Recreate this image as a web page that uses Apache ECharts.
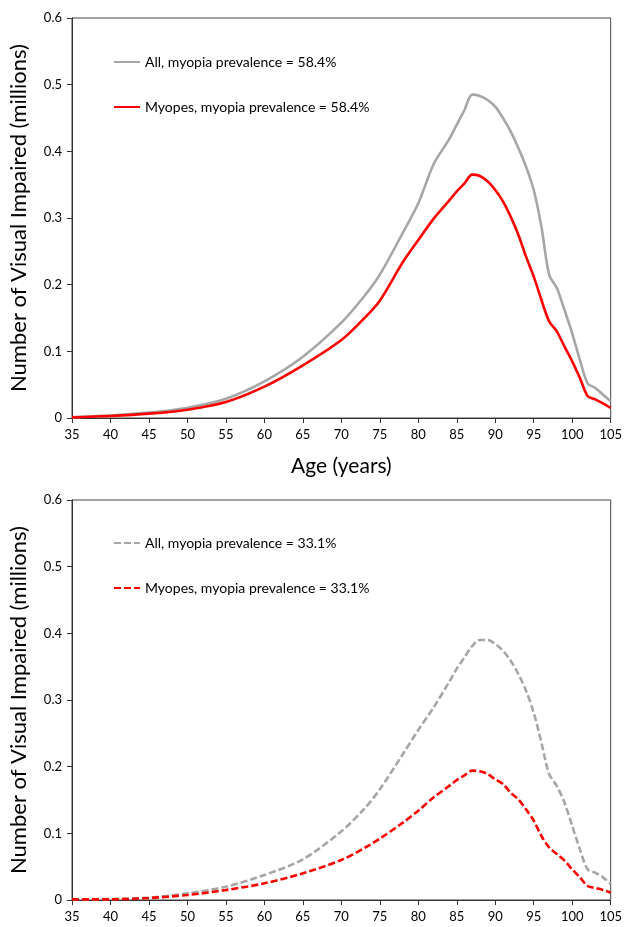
<!DOCTYPE html>
<html>
<head>
<meta charset="utf-8">
<script src="https://cdn.jsdelivr.net/npm/echarts@6/dist/echarts.min.js"></script>
<style>
  html, body { margin: 0; padding: 0; background: #fff; }
  #chart { width: 625px; height: 927px; }
</style>
</head>
<body>
<div id="chart"></div>
<script>
  // ages (years)
  const ages = [35, 40, 45, 50, 55, 60, 65, 70, 73, 75, 78, 80, 82, 84, 85, 86, 87, 88, 89, 90,
    91, 92, 93, 94, 95, 96, 97, 98, 99, 100, 101, 102, 103, 104, 105];

  // top panel, myopia prevalence = 58.4%
  const allHigh = [0.001, 0.004, 0.008, 0.0155, 0.029, 0.055, 0.092, 0.143, 0.183, 0.215, 0.278, 0.322, 0.381,
    0.418, 0.44, 0.462, 0.485, 0.483, 0.477, 0.467, 0.45, 0.43, 0.405, 0.377, 0.342, 0.287, 0.215,
    0.195, 0.162, 0.127, 0.087, 0.052, 0.045, 0.035, 0.025];
  const myopesHigh = [0.001, 0.003, 0.0065, 0.0125, 0.024, 0.047, 0.079, 0.117, 0.15, 0.176, 0.234, 0.267, 0.299,
    0.326, 0.34, 0.352, 0.365, 0.363, 0.355, 0.342, 0.325, 0.302, 0.275, 0.242, 0.212, 0.177, 0.145,
    0.13, 0.107, 0.085, 0.06, 0.033, 0.028, 0.022, 0.015];

  // bottom panel, myopia prevalence = 33.1%
  const allLow = [0.001, 0.0015, 0.0035, 0.01, 0.02, 0.0375, 0.061, 0.103, 0.137, 0.166, 0.219, 0.255, 0.289,
    0.327, 0.347, 0.364, 0.381, 0.39, 0.39, 0.384, 0.374, 0.359, 0.339, 0.314, 0.281, 0.236, 0.189,
    0.171, 0.146, 0.111, 0.076, 0.046, 0.041, 0.034, 0.024];
  const myopesLow = [0.001, 0.001, 0.003, 0.0075, 0.015, 0.025, 0.04, 0.06, 0.078, 0.092, 0.116, 0.134, 0.154,
    0.171, 0.18, 0.187, 0.194, 0.193, 0.189, 0.181, 0.174, 0.161, 0.151, 0.136, 0.119, 0.096, 0.079,
    0.069, 0.059, 0.046, 0.034, 0.021, 0.018, 0.015, 0.011];

  const names = [
    'All, myopia prevalence = 58.4%',
    'Myopes, myopia prevalence = 58.4%',
    'All, myopia prevalence = 33.1%',
    'Myopes, myopia prevalence = 33.1%'
  ];

  const font = 'Lato, "Open Sans", sans-serif';
  const gray = '#a6a6a6';
  const red = '#ff0000';

  function pairs(vals) {
    return ages.map((a, i) => [a, vals[i]]);
  }

  function xAxis(idx, showName) {
    return {
      type: 'value', gridIndex: idx,
      min: 35, max: 105, interval: 5,
      name: showName ? 'Age (years)' : '',
      nameLocation: 'middle', nameGap: 38,
      nameTextStyle: {fontFamily: font, fontSize: 21, color: '#000'},
      axisLine: {show: true, lineStyle: {color: '#333', width: 1}},
      axisTick: {show: true, inside: false, length: 5, lineStyle: {color: '#333'}},
      axisLabel: {fontFamily: font, fontSize: 13, color: '#000', margin: 10},
      splitLine: {show: false}
    };
  }

  function yAxis(idx) {
    return {
      type: 'value', gridIndex: idx,
      min: 0, max: 0.6, interval: 0.1,
      name: 'Number of Visual Impaired (millions)',
      nameLocation: 'middle', nameGap: 42,
      nameTextStyle: {fontFamily: font, fontSize: 22, color: '#000'},
      axisLine: {show: true, lineStyle: {color: '#333', width: 1}},
      axisTick: {show: true, inside: false, length: 5, lineStyle: {color: '#333'}},
      axisLabel: {fontFamily: font, fontSize: 13, color: '#000', margin: 10},
      splitLine: {show: false}
    };
  }

  function line(name, vals, idx, color, dashed) {
    return {
      name: name, type: 'line',
      xAxisIndex: idx, yAxisIndex: idx,
      data: pairs(vals),
      symbol: 'none', smooth: 0.3,
      lineStyle: {color: color, width: 2.6, type: dashed ? [7, 3] : 'solid'},
      itemStyle: {color: color}
    };
  }

  function legend(top, data) {
    return {
      data: data, orient: 'vertical',
      left: 108, top: top,
      itemWidth: 26, itemHeight: 14, itemGap: 31,
      itemStyle: {color: 'transparent', borderColor: 'transparent', borderWidth: 0},
      textStyle: {fontFamily: font, fontSize: 14, color: '#000'}
    };
  }

  const chart = echarts.init(document.getElementById('chart'));
  chart.setOption({
    animation: false,
    backgroundColor: '#fff',
    grid: [
      {left: 72, right: 13, top: 18, height: 400, show: true, borderColor: '#444', borderWidth: 1},
      {left: 72, right: 13, top: 500, height: 400, show: true, borderColor: '#444', borderWidth: 1}
    ],
    legend: [
      legend(50, [names[0], names[1]]),
      legend(531, [names[2], names[3]])
    ],
    xAxis: [xAxis(0, true), xAxis(1, false)],
    yAxis: [yAxis(0), yAxis(1)],
    series: [
      line(names[0], allHigh, 0, gray, false),
      line(names[1], myopesHigh, 0, red, false),
      line(names[2], allLow, 1, gray, true),
      line(names[3], myopesLow, 1, red, true)
    ]
  });
</script>
</body>
</html>
